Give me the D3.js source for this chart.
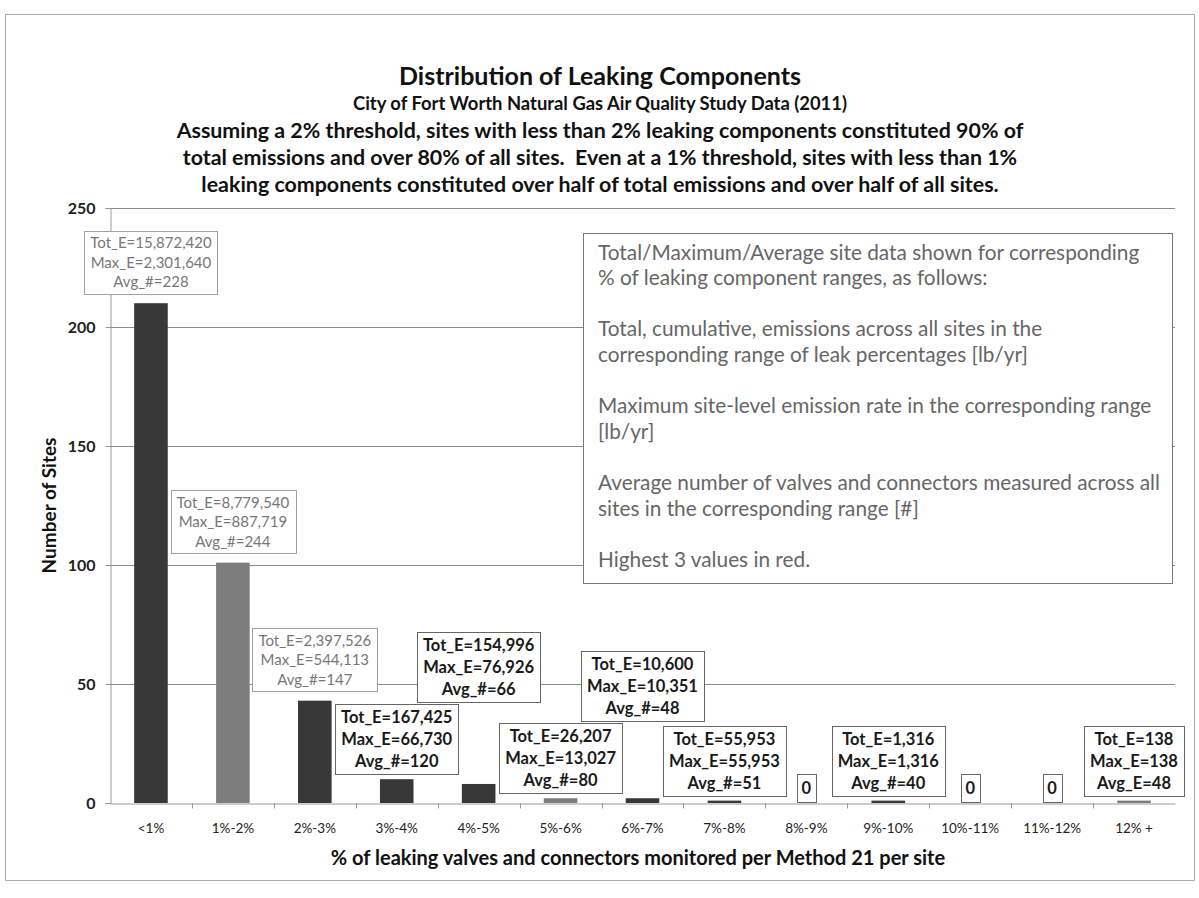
<!DOCTYPE html>
<html>
<head>
<meta charset="utf-8">
<script src="https://cdn.jsdelivr.net/npm/d3@7"></script>
<style>
  body { margin: 0; background: #fff; }
  svg { font-family: Lato, "Open Sans", sans-serif; }
  text { white-space: pre; }
</style>
</head>
<body>
<div id="chart"></div>
<script>
const categories = ["<1%", "1%-2%", "2%-3%", "3%-4%", "4%-5%", "5%-6%", "6%-7%",
  "7%-8%", "8%-9%", "9%-10%", "10%-11%", "11%-12%", "12% +"];
const siteCounts = [210, 101, 43, 10, 8, 2, 2, 1, 0, 1, 0, 0, 1];
const totalEmissions = [15872420, 8779540, 2397526, 167425, 154996, 26207, 10600, 55953, 0, 1316, 0, 0, 138];
const maxEmissions = [2301640, 887719, 544113, 66730, 76926, 13027, 10351, 55953, 0, 1316, 0, 0, 138];
const avgComponents = [228, 244, 147, 120, 66, 80, 48, 51, 0, 40, 0, 0, 48];
const avgTags = ["Avg_#", "Avg_#", "Avg_#", "Avg_#", "Avg_#", "Avg_#", "Avg_#",
  "Avg_#", "Avg_#", "Avg_#", "Avg_#", "Avg_#", "Avg_E"];
const yTicks = [0, 50, 100, 150, 200, 250];

const titleLines = [
  "Distribution of Leaking Components",
  "City of Fort Worth Natural Gas Air Quality Study Data (2011)",
  "Assuming a 2% threshold, sites with less than 2% leaking components constituted 90% of",
  "total emissions and over 80% of all sites.  Even at a 1% threshold, sites with less than 1%",
  "leaking components constituted over half of total emissions and over half of all sites.",
];
const noteLines = [
  "Total/Maximum/Average site data shown for corresponding",
  "% of leaking component ranges, as follows:",
  "",
  "Total, cumulative, emissions across all sites in the",
  "corresponding range of leak percentages [lb/yr]",
  "",
  "Maximum site-level emission rate in the corresponding range",
  "[lb/yr]",
  "",
  "Average number of valves and connectors measured across all",
  "sites in the corresponding range [#]",
  "",
  "Highest 3 values in red.",
];
const xTitle = "% of leaking valves and connectors monitored per Method 21 per site";
const yTitle = "Number of Sites";

const width = 1199;
const height = 898;
const plot = { left: 110, right: 1175, top: 208, bottom: 803 };

const svg = d3.select("#chart").append("svg")
  .attr("width", width)
  .attr("height", height);

// outer frame
svg.append("rect")
  .attr("x", 5.5).attr("y", 14.5)
  .attr("width", 1189).attr("height", 866)
  .attr("fill", "none").attr("stroke", "#aaa");

// titles
const titleG = svg.append("g").attr("text-anchor", "middle").attr("fill", "#111");
const titleSizes = [25, 18.4, 21.4, 21.4, 21.4];
const titleYs = [75, 103, 130, 157, 184];
titleLines.forEach((t, i) => {
  titleG.append("text")
    .attr("x", 600).attr("y", titleYs[i])
    .attr("dominant-baseline", "central")
    .attr("font-weight", 700)
    .attr("font-size", titleSizes[i])
    .text(t);
});

const x = d3.scaleBand().domain(categories).range([plot.left, plot.right]);
const y = d3.scaleLinear().domain([0, 250]).range([plot.bottom, plot.top]);
const barWidth = x.bandwidth() * 0.41;

// gridlines
svg.append("g").selectAll("line")
  .data(yTicks.filter((d) => d > 0))
  .join("line")
  .attr("x1", plot.left).attr("x2", plot.right)
  .attr("y1", (d) => Math.round(y(d)) + 0.5).attr("y2", (d) => Math.round(y(d)) + 0.5)
  .attr("stroke", "#8a8a8a");

// y axis
const yAxisG = svg.append("g")
  .attr("transform", `translate(${plot.left + 0.5},0)`)
  .call(d3.axisLeft(y).tickValues(yTicks).tickSize(5).tickPadding(10));
yAxisG.select(".domain").attr("stroke", "#999");
yAxisG.selectAll(".tick line").attr("stroke", "#999");
yAxisG.selectAll(".tick text")
  .attr("font-family", "Lato, sans-serif")
  .attr("font-size", 16).attr("font-weight", 700).attr("fill", "#222");

svg.append("text")
  .attr("transform", `translate(48,${(plot.top + plot.bottom) / 2}) rotate(-90)`)
  .attr("text-anchor", "middle")
  .attr("dominant-baseline", "central")
  .attr("font-size", 19).attr("font-weight", 700).attr("fill", "#111")
  .text(yTitle);

// note box
const noteG = svg.append("g");
noteG.append("rect")
  .attr("x", 583.5).attr("y", 233.5)
  .attr("width", 589).attr("height", 350)
  .attr("fill", "#fff").attr("stroke", "#777");
noteLines.forEach((t, i) => {
  noteG.append("text")
    .attr("x", 598).attr("y", 251 + i * 25.6)
    .attr("dominant-baseline", "central")
    .attr("font-size", 20.8).attr("fill", "#666")
    .text(t);
});

// x axis
const xAxisG = svg.append("g")
  .attr("transform", `translate(0,${plot.bottom + 0.5})`)
  .call(d3.axisBottom(x).tickSize(0).tickPadding(20));
xAxisG.select(".domain").attr("stroke", "#999");
xAxisG.selectAll(".tick text")
  .attr("font-family", "Lato, sans-serif")
  .attr("font-size", 13.5).attr("fill", "#222");
xAxisG.selectAll(".sep")
  .data(categories.slice(1))
  .join("line")
  .attr("class", "sep")
  .attr("x1", (d) => Math.round(x(d)) + 0.5).attr("x2", (d) => Math.round(x(d)) + 0.5)
  .attr("y1", 0).attr("y2", 5)
  .attr("stroke", "#999");

svg.append("text")
  .attr("x", 638).attr("y", 857)
  .attr("text-anchor", "middle")
  .attr("dominant-baseline", "central")
  .attr("font-size", 20).attr("font-weight", 700).attr("fill", "#111")
  .text(xTitle);

// bars
const lightBars = new Set(["1%-2%", "5%-6%", "12% +"]);
svg.append("g").selectAll("rect")
  .data(categories)
  .join("rect")
  .attr("x", (d) => x(d) + (x.bandwidth() - barWidth) / 2)
  .attr("y", (d, i) => y(siteCounts[i]))
  .attr("width", barWidth)
  .attr("height", (d, i) => y(0) - y(siteCounts[i]))
  .attr("fill", (d) => (lightBars.has(d) ? "#7d7d7d" : "#383838"));

// data labels: highest 3 values of each metric are highlighted
const top3 = (arr) => new Set(d3.range(arr.length).sort((a, b) => arr[b] - arr[a]).slice(0, 3));
const topTot = top3(totalEmissions);
const topMax = top3(maxEmissions);
const topAvg = top3(avgComponents);
const fmt = d3.format(",");

const labelsG = svg.append("g");
const placed = [];
categories.forEach((c, i) => {
  const cx = x(c) + x.bandwidth() / 2;
  const g = labelsG.append("g");
  let lines;
  if (siteCounts[i] === 0) {
    lines = [{ t: "0", hi: false }];
  } else {
    lines = [
      { t: `Tot_E=${fmt(totalEmissions[i])}`, hi: topTot.has(i) },
      { t: `Max_E=${fmt(maxEmissions[i])}`, hi: topMax.has(i) },
      { t: `${avgTags[i]}=${fmt(avgComponents[i])}`, hi: topAvg.has(i) },
    ];
  }
  const hiBox = lines.some((l) => l.hi);
  const fs = hiBox ? 15 : 16.5;
  const lh = hiBox ? 19.5 : 22;
  const rect = g.append("rect").attr("fill", "#fff")
    .attr("stroke", hiBox ? "#a0a0a0" : "#666");
  const texts = lines.map((l, k) =>
    g.append("text")
      .attr("x", cx)
      .attr("text-anchor", "middle")
      .attr("dominant-baseline", "central")
      .attr("font-size", fs)
      .attr("font-weight", l.hi ? 400 : 700)
      .attr("fill", l.hi ? "#777" : "#1a1a1a")
      .text(l.t)
  );
  const w = d3.max(texts, (t) => t.node().getComputedTextLength()) + (lines.length > 1 ? 12 : 9);
  const h = lines.length * lh + (lines.length > 1 ? 4 : 6);
  let bottom = y(siteCounts[i]) - (siteCounts[i] === 0 ? 1 : hiBox ? 10 : 5);
  const box = { x0: cx - w / 2, x1: cx + w / 2 };
  let moved = true;
  while (moved) {
    moved = false;
    placed.forEach((p) => {
      const top = bottom - h;
      if (box.x0 < p.x1 && box.x1 > p.x0 && top < p.bottom && bottom > p.top) {
        bottom = p.top - 2;
        moved = true;
      }
    });
  }
  const top = bottom - h;
  placed.push({ x0: box.x0, x1: box.x1, top, bottom });
  rect.attr("x", Math.round(box.x0) + 0.5).attr("y", Math.round(top) + 0.5)
    .attr("width", Math.round(w)).attr("height", Math.round(h));
  texts.forEach((t, k) => t.attr("y", top + (lines.length > 1 ? 2 : 3) + lh * (k + 0.5)));
});
</script>
</body>
</html>
